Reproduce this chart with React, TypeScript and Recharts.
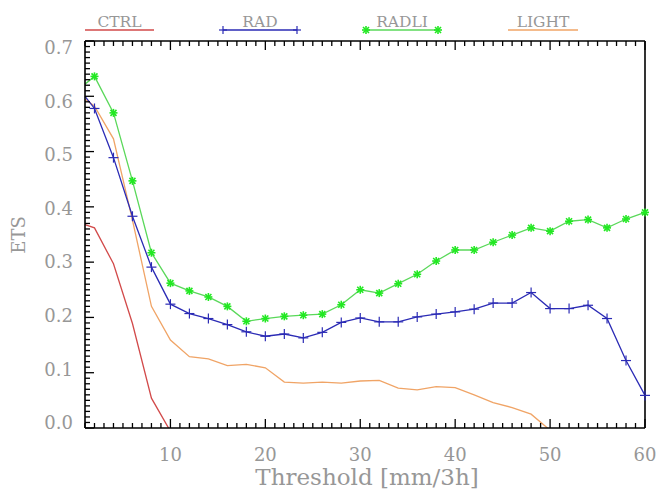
import React from "react";
import { LineChart, Line, XAxis, YAxis, Legend, Label } from "recharts";

const THRESHOLDS = [1, 2, 4, 6, 8, 10, 12, 14, 16, 18, 20, 22, 24, 26, 28, 30, 32, 34, 36, 38, 40, 42, 44, 46, 48, 50, 52, 54, 56, 58, 60];

const CTRL = [0.368, 0.362, 0.297, 0.189, 0.054, -0.006, -0.08, null, null, null, null, null, null, null, null, null, null, null, null, null, null, null, null, null, null, null, null, null, null, null, null];

const RAD = [0.6, 0.578, 0.489, 0.383, 0.291, 0.224, 0.207, 0.198, 0.187, 0.174, 0.166, 0.17, 0.163, 0.173, 0.191, 0.199, 0.192, 0.192, 0.201, 0.206, 0.21, 0.215, 0.226, 0.226, 0.245, 0.216, 0.216, 0.222, 0.198, 0.122, 0.059];

const RADLI = [0.622, 0.636, 0.57, 0.447, 0.317, 0.262, 0.248, 0.237, 0.22, 0.193, 0.198, 0.202, 0.204, 0.206, 0.223, 0.25, 0.244, 0.261, 0.278, 0.302, 0.322, 0.322, 0.336, 0.349, 0.362, 0.356, 0.374, 0.377, 0.362, 0.378, 0.39];

const LIGHT = [0.595, 0.582, 0.523, 0.376, 0.22, 0.159, 0.129, 0.125, 0.113, 0.115, 0.109, 0.083, 0.081, 0.083, 0.081, 0.085, 0.086, 0.072, 0.069, 0.075, 0.073, 0.06, 0.046, 0.037, 0.025, -0.004, -0.04, null, null, null, null];

const X_LABELS = [10, 20, 30, 40, 50, 60];
const Y_LABELS = ["0.0", "0.1", "0.2", "0.3", "0.4", "0.5", "0.6", "0.7"];

// minor ticks: every 1 mm on x, every 0.01 on y
const X_TICKS = Array.from({ length: 60 }, (_, i) => i + 1);
const Y_TICKS = Array.from({ length: 71 }, (_, i) => i / 100);

const data = THRESHOLDS.map((t, i) => ({
  t,
  ctrl: CTRL[i],
  rad: RAD[i],
  radli: RADLI[i],
  light: LIGHT[i],
}));

const GREY = "#979797";
const FONT = "'DejaVu Serif', serif";
const C_CTRL = "#d24a4a";
const C_RAD = "#2b2bb5";
const C_RADLI = "#5ad85a";
const C_RADLI_MK = "#22e822";
const C_LIGHT = "#f0a466";

const MAJOR = 9;
const MINOR = 5;

function BottomTick({ x, y, payload }: any) {
  const v = payload.value;
  const major = X_LABELS.includes(v);
  return (
    <g>
      <line x1={x} x2={x} y1={y} y2={y - (major ? MAJOR : MINOR)} stroke="#000" strokeWidth={1.3} />
      {major && (
        <text x={x} y={y + 33} textAnchor="middle" fontFamily={FONT} fontSize={18} fill={GREY}>
          {v}
        </text>
      )}
    </g>
  );
}

function TopTick({ x, y, payload }: any) {
  const major = X_LABELS.includes(payload.value);
  return <line x1={x} x2={x} y1={y} y2={y + (major ? MAJOR : MINOR)} stroke="#000" strokeWidth={1.3} />;
}

function LeftTick({ x, y, payload }: any) {
  const k = Math.round(payload.value * 100);
  const major = k % 10 === 0;
  const dy = -5.3 + 12 * (k / 70);
  return (
    <g>
      <line x1={x} x2={x + (major ? MAJOR : MINOR)} y1={y} y2={y} stroke="#000" strokeWidth={1.3} />
      {major && (
        <text x={x - 12} y={y + dy + 6.5} textAnchor="end" fontFamily={FONT} fontSize={18} fill={GREY}>
          {Y_LABELS[k / 10]}
        </text>
      )}
    </g>
  );
}

function RightTick({ x, y, payload }: any) {
  const major = Math.round(payload.value * 100) % 10 === 0;
  return <line x1={x} x2={x - (major ? MAJOR : MINOR)} y1={y} y2={y} stroke="#000" strokeWidth={1.3} />;
}

function PlusDot(props: any) {
  const { cx, cy, payload, index } = props;
  if (cx == null || cy == null || payload.t === 1) return <g key={index} />;
  return (
    <g key={index} stroke={C_RAD} strokeWidth={1.2}>
      <line x1={cx - 5} x2={cx + 5} y1={cy} y2={cy} />
      <line x1={cx} x2={cx} y1={cy - 5} y2={cy + 5} />
    </g>
  );
}

function StarDot(props: any) {
  const { cx, cy, payload, index } = props;
  if (cx == null || cy == null || payload.t === 1) return <g key={index} />;
  return (
    <g key={index} stroke={C_RADLI_MK} strokeWidth={1.6}>
      <line x1={cx - 4} x2={cx + 4} y1={cy} y2={cy} />
      <line x1={cx} x2={cx} y1={cy - 4} y2={cy + 4} />
      <line x1={cx - 3} x2={cx + 3} y1={cy - 3} y2={cy + 3} />
      <line x1={cx - 3} x2={cx + 3} y1={cy + 3} y2={cy - 3} />
    </g>
  );
}

const LEGEND_ITEMS = [
  { name: "CTRL", color: C_CTRL, x1: 85, x2: 154, mark: "none" },
  { name: "RAD", color: C_RAD, x1: 223, x2: 297, mark: "plus" },
  { name: "RADLI", color: C_RADLI, x1: 366, x2: 438, mark: "star" },
  { name: "LIGHT", color: C_LIGHT, x1: 508, x2: 578, mark: "none" },
];

function TopLegend() {
  return (
    <svg width={659} height={40} style={{ display: "block" }}>
      {LEGEND_ITEMS.map((it) => {
        const cx = (it.x1 + it.x2) / 2;
        return (
          <g key={it.name}>
            <text x={cx} y={27} textAnchor="middle" fontFamily={FONT} fontSize={15.5} fill={GREY}>
              {it.name}
            </text>
            <line x1={it.x1} x2={it.x2} y1={30} y2={30} stroke={it.color} strokeWidth={1.3} />
            {it.mark === "plus" &&
              [it.x1, it.x2].map((px) => (
                <g key={px} stroke={C_RAD} strokeWidth={1.2}>
                  <line x1={px - 4} x2={px + 4} y1={30} y2={30} />
                  <line x1={px} x2={px} y1={26} y2={34} />
                </g>
              ))}
            {it.mark === "star" &&
              [it.x1, it.x2].map((px) => (
                <g key={px} stroke={C_RADLI_MK} strokeWidth={1.6}>
                  <line x1={px - 4} x2={px + 4} y1={30} y2={30} />
                  <line x1={px} x2={px} y1={26} y2={34} />
                  <line x1={px - 3} x2={px + 3} y1={27} y2={33} />
                  <line x1={px - 3} x2={px + 3} y1={33} y2={27} />
                </g>
              ))}
          </g>
        );
      })}
    </svg>
  );
}

export default function App() {
  return (
    <div style={{ position: "absolute", left: 0, top: 0, width: 659, height: 493, background: "#fff" }}>
      <LineChart width={659} height={493} data={data} margin={{ top: 40, right: 13, bottom: 64, left: 84 }}>
        <XAxis
          dataKey="t" type="number" domain={[1, 60]} ticks={X_TICKS} interval={0}
          height={1} tickSize={0} tickMargin={0} tickLine={false}
          axisLine={{ stroke: "#000", strokeWidth: 1.6 }} tick={<BottomTick />}
        >
          <Label
            content={() => (
              <text x={367} y={485} textAnchor="middle" fontFamily={FONT} fontSize={23} fill={GREY}>
                Threshold [mm/3h]
              </text>
            )}
          />
        </XAxis>
        <XAxis
          xAxisId="top" orientation="top" dataKey="t" type="number" domain={[1, 60]} ticks={X_TICKS}
          interval={0} height={1} tickSize={0} tickMargin={0} tickLine={false}
          axisLine={{ stroke: "#000", strokeWidth: 1.6 }} tick={<TopTick />}
        />
        <YAxis
          type="number" domain={[0, 0.7]} ticks={Y_TICKS} interval={0} allowDataOverflow
          width={1} tickSize={0} tickMargin={0} tickLine={false}
          axisLine={{ stroke: "#000", strokeWidth: 1.6 }} tick={<LeftTick />}
        >
          <Label
            content={() => (
              <text x={25} y={235} transform="rotate(-90 25 235)" textAnchor="middle" fontFamily={FONT} fontSize={18} fill={GREY}>
                ETS
              </text>
            )}
          />
        </YAxis>
        <YAxis
          yAxisId="right" orientation="right" type="number" domain={[0, 0.7]} ticks={Y_TICKS} interval={0}
          width={1} tickSize={0} tickMargin={0} tickLine={false}
          axisLine={{ stroke: "#000", strokeWidth: 1.6 }} tick={<RightTick />}
        />
        <Legend
          layout="horizontal" verticalAlign="middle" align="center"
          wrapperStyle={{ top: 0, left: 0, width: 659, height: 40 }}
          content={() => <TopLegend />}
        />
        <Line dataKey="ctrl" name="CTRL" stroke={C_CTRL} strokeWidth={1.3} dot={false} isAnimationActive={false} />
        <Line dataKey="light" name="LIGHT" stroke={C_LIGHT} strokeWidth={1.3} dot={false} isAnimationActive={false} />
        <Line dataKey="rad" name="RAD" stroke={C_RAD} strokeWidth={1.3} dot={PlusDot} isAnimationActive={false} />
        <Line dataKey="radli" name="RADLI" stroke={C_RADLI} strokeWidth={1.3} dot={StarDot} isAnimationActive={false} />
      </LineChart>
    </div>
  );
}
